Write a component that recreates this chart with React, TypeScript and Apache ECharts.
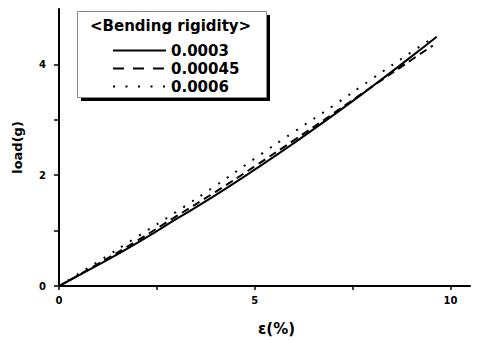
import React, { useEffect, useRef } from "react";
import * as echarts from "echarts";

const seriesNames = ["0.0003", "0.00045", "0.0006"];
const solidX = [0, 1, 2, 3, 4, 5, 6, 7, 8, 9, 9.65];
const solidY = [0, 0.38, 0.78, 1.21, 1.64, 2.1, 2.58, 3.08, 3.6, 4.14, 4.5];
const dashX = [0, 1, 2, 3, 4, 5, 6, 7, 8, 9, 9.55];
const dashY = [0, 0.4, 0.82, 1.26, 1.7, 2.16, 2.63, 3.11, 3.6, 4.08, 4.34];
const dotX = [0, 1, 2, 3, 4, 5, 6, 7, 8, 9, 9.6];
const dotY = [0, 0.44, 0.89, 1.34, 1.81, 2.3, 2.78, 3.25, 3.74, 4.22, 4.5];
const xTickLabels = [0, 5, 10];
const yTickLabels = [0, 2, 4];
const legendTitle = "<Bending rigidity>";

const FONT = "DejaVu Sans";

function pairs(xs: number[], ys: number[]) {
  return xs.map((x, i) => [x, ys[i]]);
}

export default function App() {
  const ref = useRef<HTMLDivElement>(null);
  useEffect(() => {
    if (!ref.current) return;
    const chart = echarts.init(ref.current, undefined, { renderer: "svg" });
    const lineTypes: any[] = ["solid", [8, 5], [2, 8.5]];
    const legendTypes: any[] = ["solid", [11, 9], [2, 10.5]];
    const datas = [pairs(solidX, solidY), pairs(dashX, dashY), pairs(dotX, dotY)];
    chart.setOption({
      animation: false,
      backgroundColor: "#fff",
      grid: { left: 59, right: 14, top: 9, bottom: 53 },
      xAxis: {
        type: "value",
        min: 0,
        max: 10.5,
        interval: 2.5,
        name: "ε(%)",
        nameLocation: "middle",
        nameGap: 35,
        nameTextStyle: { fontFamily: FONT, fontWeight: "bold", fontSize: 15, color: "#000", padding: [0, 0, 0, 24] },
        axisLine: { lineStyle: { color: "#000", width: 2 } },
        axisTick: { show: true, length: 4, customValues: [0, 2.5, 5, 7.5, 10], lineStyle: { color: "#000", width: 1.5 } },
        axisLabel: { customValues: xTickLabels, fontFamily: FONT, fontWeight: "bold", fontSize: 10, color: "#000", margin: 9 },
        splitLine: { show: false },
      },
      yAxis: {
        type: "value",
        min: 0,
        max: 5,
        interval: 1,
        name: "load(g)",
        nameLocation: "middle",
        nameGap: 35,
        nameRotate: 90,
        nameTextStyle: { fontFamily: FONT, fontWeight: "bold", fontSize: 13, color: "#000" },
        axisLine: { show: true, lineStyle: { color: "#000", width: 2 } },
        axisTick: { show: true, length: 5, customValues: [0, 1, 2, 3, 4], lineStyle: { color: "#000", width: 1.5 } },
        axisLabel: { customValues: yTickLabels, fontFamily: FONT, fontWeight: "bold", fontSize: 10, color: "#000", margin: 13 },
        splitLine: { show: false },
      },
      legend: {
        orient: "vertical",
        left: 107,
        top: 38,
        itemWidth: 53,
        itemHeight: 14,
        itemGap: 3,
        itemStyle: { opacity: 0 },
        data: seriesNames.map((name, i) => ({
          name,
          itemStyle: { opacity: 0 },
          lineStyle: { color: "#000", width: 2, type: legendTypes[i] },
        })),
        textStyle: { fontFamily: FONT, fontWeight: "bold", fontSize: 15, color: "#000", padding: [0, 0, 0, 0] },
      },
      graphic: [
        { type: "rect", left: 81, top: 15, shape: { width: 189, height: 86 }, style: { fill: "#000" }, z: -1 },
        { type: "rect", left: 77, top: 11, shape: { width: 189, height: 86 }, style: { fill: "#fff", stroke: "#888", lineWidth: 1 }, z: 0 },
        {
          type: "text",
          left: 90,
          top: 18,
          style: { text: legendTitle, fontFamily: FONT, fontWeight: "bold", fontSize: 15, fill: "#000" },
          z: 10,
        },
      ],
      series: seriesNames.map((name, i) => ({
        name,
        type: "line",
        data: datas[i],
        smooth: true,
        symbol: "none",
        lineStyle: { color: "#000", width: 2, type: lineTypes[i] },
        itemStyle: { color: "#000" },
        z: 5,
      })),
    });
    return () => chart.dispose();
  }, []);
  return <div ref={ref} style={{ position: "fixed", left: 0, top: 0, width: 484, height: 341 }} />;
}
